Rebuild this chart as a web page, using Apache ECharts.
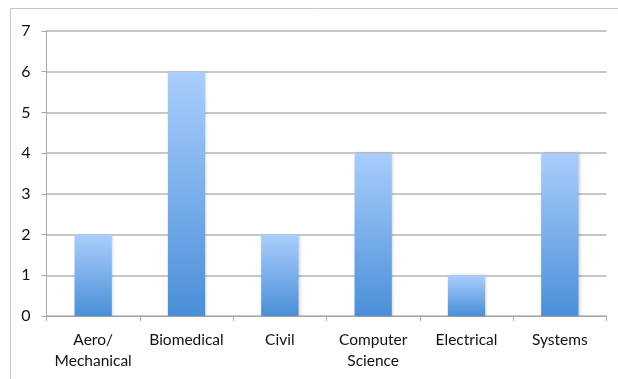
<!DOCTYPE html>
<html><head><meta charset="utf-8">
<script src="https://cdn.jsdelivr.net/npm/echarts@6/dist/echarts.min.js"></script>
<style>html,body{margin:0;padding:0;background:#fff}#c{width:618px;height:379px}</style>
</head><body><div id="c"></div>
<script>
const categories = ["Aero/\nMechanical", "Biomedical", "Civil", "Computer\nScience", "Electrical", "Systems"];
const values = [2, 6, 2, 4, 1, 4];
const yTicks = [0, 1, 2, 3, 4, 5, 6, 7];

const chart = echarts.init(document.getElementById('c'), null, {renderer: 'canvas'});
chart.setOption({
  animation: false,
  backgroundColor: '#fff',
  graphic: [{
    type: 'rect', shape: {x: 10.5, y: 8.5, width: 700, height: 500},
    style: {fill: 'none', stroke: '#c4c4c4', lineWidth: 1}, silent: true
  }],
  grid: {left: 46.5, right: 11.5, top: 31, bottom: 63, containLabel: false},
  xAxis: {
    type: 'category', data: categories,
    axisLine: {lineStyle: {color: '#a8a8a8', width: 1}},
    axisTick: {show: true, length: 5, alignWithLabel: false, lineStyle: {color: '#a8a8a8'}},
    axisLabel: {color: '#111', fontFamily: 'Lato', fontSize: 15.5, margin: 13, lineHeight: 21, interval: 0}
  },
  yAxis: {
    type: 'value', min: yTicks[0], max: yTicks[yTicks.length - 1], interval: 1,
    axisLine: {show: true, lineStyle: {color: '#a8a8a8'}},
    axisTick: {show: true, length: 5, lineStyle: {color: '#a8a8a8'}},
    splitLine: {lineStyle: {color: '#b4b4b4', width: 1.5}},
    axisLabel: {color: '#111', fontFamily: 'Lato', fontSize: 16, margin: 16}
  },
  series: [{
    type: 'bar', data: values, barWidth: '40%',
    itemStyle: {
      color: new echarts.graphic.LinearGradient(0, 0, 0, 1, [
        {offset: 0, color: '#a9cefc'},
        {offset: 1, color: '#4a8fd8'}
      ]),
      shadowColor: 'rgba(0,0,0,0.18)', shadowBlur: 3, shadowOffsetX: 1, shadowOffsetY: 0
    }
  }]
});
</script></body></html>
